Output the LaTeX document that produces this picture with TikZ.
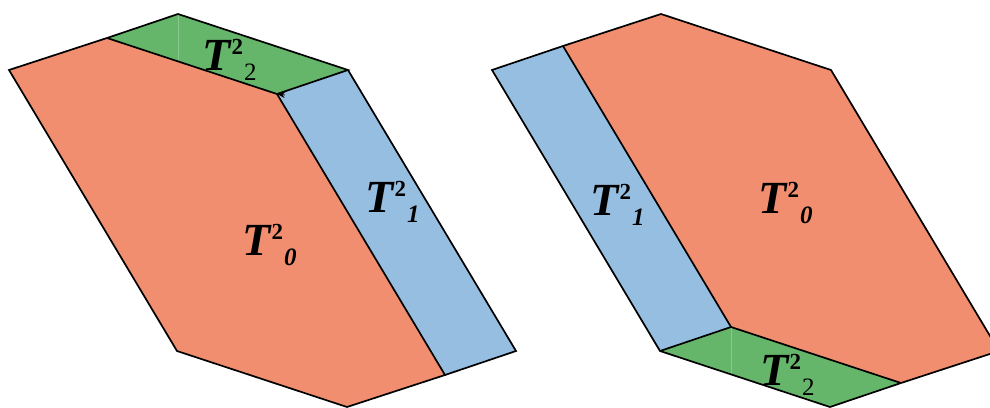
\documentclass[tikz,border=0pt]{standalone}
\usepackage{fontspec}
\setmainfont{Liberation Serif}
\usetikzlibrary{arrows.meta}

\definecolor{tileorange}{RGB}{241,142,111}
\definecolor{tileblue}{RGB}{149,190,225}
\definecolor{tilegreen}{RGB}{101,181,106}

% T^2_i label with the index set after the exponent
\newcommand{\tname}[1]{{\fontsize{23}{23}\selectfont\bfseries\itshape T}%
  \kern0.5pt\raisebox{8pt}{\fontsize{11.5}{11.5}\selectfont\bfseries 2}%
  \kern0.5pt\raisebox{-5pt}{\fontsize{12.5}{12.5}\selectfont #1}}

\begin{document}
\begin{tikzpicture}[
        x=0.5pt, y=-0.5pt,
        tile/.style={draw=black, line width=0.85pt},
        seam/.style={tilegreen!75!white, line width=0.5pt},
        lbl/.style={inner sep=0pt, anchor=base west}
    ]
    \useasboundingbox (0,0) rectangle (990,407);
    \clip (0,0) rectangle (990,407);

    % left tiling
    \coordinate (a0) at (9,70);
    \coordinate (a1) at (107,38);
    \coordinate (a2) at (178,14);
    \coordinate (a3) at (348,70);
    \coordinate (a4) at (516,351);
    \coordinate (a5) at (445,375);
    \coordinate (a6) at (347,407);
    \coordinate (a7) at (177,351);
    \coordinate (ja) at (277,94);

    \fill[tileorange] (a0) -- (a1) -- (ja) -- (a5) -- (a6) -- (a7) -- cycle;
    \fill[tilegreen] (a1) -- (a2) -- (a3) -- (ja) -- cycle;
    \fill[tileblue] (ja) -- (a3) -- (a4) -- (a5) -- cycle;
    \draw[seam] (a2) -- (178,62);

    \draw[tile] (a0) -- (a1) -- (ja) -- (a5) -- (a6) -- (a7) -- cycle;
    \draw[tile] (a1) -- (a2) -- (a3) -- (ja);
    \draw[tile] (a3) -- (a4) -- (a5);

    \coordinate (tip) at (285,95);
    \draw[-{Stealth[length=4pt,width=3pt]}, line width=0.4pt] (tip) -- (ja);

    \node[lbl] (t2a) at (202,70) {\tname{2}};
    \node[lbl] (t0a) at (242,255) {\tname{\bfseries\itshape 0}};
    \node[lbl] (t1a) at (365,212) {\tname{\bfseries\itshape 1}};

    % right tiling
    \coordinate (b0) at (492,70);
    \coordinate (b1) at (563,46);
    \coordinate (b2) at (661,14);
    \coordinate (b3) at (831,70);
    \coordinate (b4) at (999,351);
    \coordinate (b5) at (901,383);
    \coordinate (b6) at (830,407);
    \coordinate (b7) at (660,351);
    \coordinate (kb) at (731,327);

    \fill[tileorange] (b1) -- (b2) -- (b3) -- (b4) -- (b5) -- (kb) -- cycle;
    \fill[tileblue] (b0) -- (b1) -- (kb) -- (b7) -- cycle;
    \fill[tilegreen] (b7) -- (kb) -- (b5) -- (b6) -- cycle;
    \draw[seam] (kb) -- (731,374);

    \draw[tile] (b0) -- (b1) -- (b2) -- (b3) -- (b4) -- (b5) -- (b6) -- (b7) -- cycle;
    \draw[tile] (b1) -- (kb) -- (b5);
    \draw[tile] (b7) -- (kb);

    \node[lbl] (t1b) at (590,215) {\tname{\bfseries\itshape 1}};
    \node[lbl] (t0b) at (758,213) {\tname{\bfseries\itshape 0}};
    \node[lbl] (t2b) at (760,385) {\tname{2}};

\end{tikzpicture}
\end{document}
